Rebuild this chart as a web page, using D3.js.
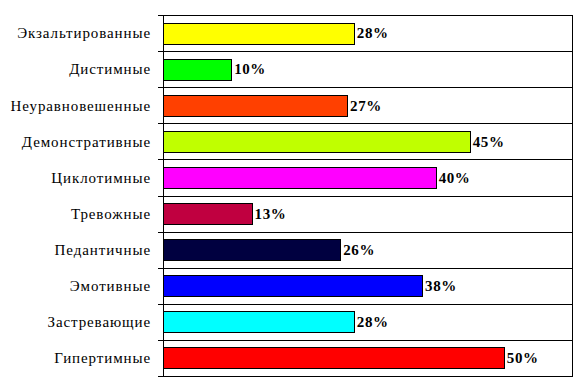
<!DOCTYPE html>
<html>
<head>
<meta charset="utf-8">
<script src="https://cdn.jsdelivr.net/npm/d3@7"></script>
<style>
body{margin:0;background:#fff}
svg{display:block}
</style>
</head>
<body>
<svg id="chart"></svg>
<script>
/* données du graphique */
const categories = ['Экзальтированные','Дистимные','Неуравновешенные','Демонстративные','Циклотимные','Тревожные','Педантичные','Эмотивные','Застревающие','Гипертимные']
const values = [28,10,27,45,40,13,26,38,28,50]
const colors = ['#ffff00','#00ff00','#ff4000','#c0ff00','#ff00ff','#c00040','#000040','#0000ff','#00ffff','#ff0000']

const width=587, height=391
const margin={top:15, right:15, bottom:15, left:163}
const fontFamily="'Liberation Serif'"

const svg = d3.select('#chart').attr('width',width).attr('height',height)

const xScale = d3.scaleLinear().domain([0,60]).range([margin.left,width-margin.right])
const yScale = d3.scaleBand().domain(categories).range([margin.top,height-margin.bottom]).paddingInner(0.42).paddingOuter(0.21)

/* lignes de séparation : bords des bandes */
const bounds = categories.map((c)=>Math.round(yScale(c)-yScale.step()*yScale.paddingInner()/2))
bounds.push(Math.round(height-margin.bottom))

svg.selectAll('line.grid')
   .data(bounds)
   .enter()
   .append('line')
   .attr('class','grid')
   .attr('x1',margin.left-5)
   .attr('x2',width-margin.right)
   .attr('y1',(d)=>d+0.5)
   .attr('y2',(d)=>d+0.5)
   .attr('stroke','#000')
   .attr('stroke-width',1)

svg.append('line')
   .attr('x1',width-margin.right+0.5).attr('x2',width-margin.right+0.5)
   .attr('y1',bounds[0]).attr('y2',bounds[bounds.length-1]+1)
   .attr('stroke','#000').attr('stroke-width',1)

/* barres */
svg.selectAll('rect.bar')
   .data(values)
   .enter()
   .append('rect')
   .attr('class','bar')
   .attr('x',margin.left+0.5)
   .attr('y',(d,i)=>Math.round(yScale(categories[i]))+0.5)
   .attr('width',(d)=>Math.round(xScale(d)-margin.left))
   .attr('height',Math.round(yScale.bandwidth()))
   .attr('fill',(d,i)=>colors[i])
   .attr('stroke','#000')
   .attr('stroke-width',1)

svg.append('line')
   .attr('x1',margin.left+0.5).attr('x2',margin.left+0.5)
   .attr('y1',bounds[0]).attr('y2',bounds[bounds.length-1]+1)
   .attr('stroke','#000').attr('stroke-width',1)

/* étiquettes des valeurs */
svg.selectAll('text.val')
   .data(values)
   .enter()
   .append('text')
   .attr('class','val')
   .attr('x',(d)=>xScale(d)+3)
   .attr('y',(d,i)=>yScale(categories[i])+yScale.bandwidth()/2)
   .attr('dy','0.35em')
   .style('font-family',fontFamily)
   .style('font-weight','bold')
   .style('font-size','15px')
   .style('letter-spacing','0.6px')
   .text((d)=>d+'%')

/* noms des catégories */
svg.selectAll('text.cat')
   .data(categories)
   .enter()
   .append('text')
   .attr('class','cat')
   .attr('x',margin.left-12)
   .attr('y',(d)=>yScale(d)+yScale.bandwidth()/2)
   .attr('dy','0.35em')
   .attr('text-anchor','end')
   .style('font-family',fontFamily)
   .style('font-size','15px')
   .style('letter-spacing','0.9px')
   .text((d)=>d)
</script>
</body>
</html>
